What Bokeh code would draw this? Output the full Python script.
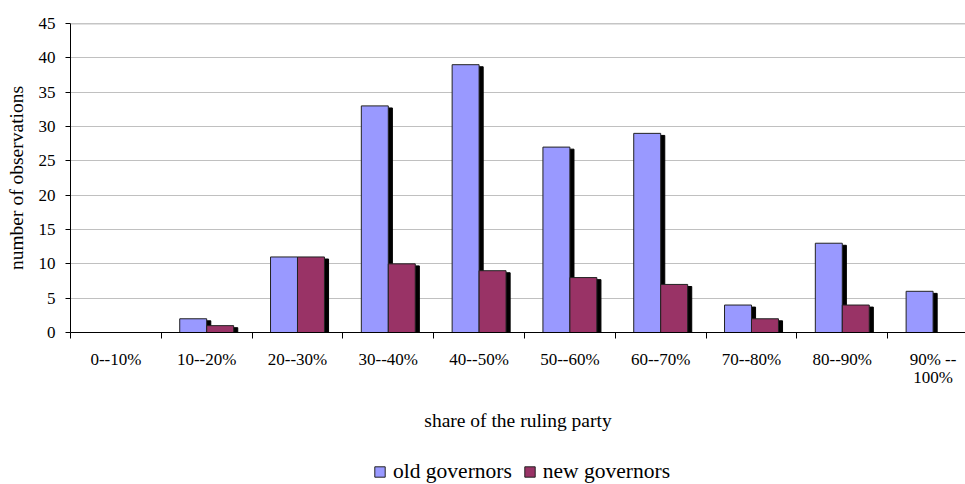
from bokeh.plotting import figure
from bokeh.layouts import column
from bokeh.models import (Range1d, FixedTicker, Span, Legend, LegendItem,
                          ColumnDataSource)
from bokeh.embed import file_html
from bokeh.resources import INLINE

categories = ["0--10%", "10--20%", "20--30%", "30--40%", "40--50%",
              "50--60%", "60--70%", "70--80%", "80--90%", "90% --\n100%"]
old_governors = [0, 2, 11, 33, 39, 27, 29, 4, 13, 6]
new_governors = [0, 1, 11, 10, 9, 8, 7, 2, 4, 0]
y_ticks = [0, 5, 10, 15, 20, 25, 30, 35, 40, 45]

FONT = "Liberation Serif"
BLUE = "#9999FF"
RED = "#993366"

n = len(categories)
centers = [i + 0.5 for i in range(n)]
bw = 0.297
dx_shadow = 0.045
dy_shadow = 0.3

x_old = [c - bw / 2 for c in centers]
x_new = [c + bw / 2 for c in centers]

src = ColumnDataSource(dict(
    x_old=x_old, x_new=x_new,
    old=old_governors, new=new_governors,
    x_old_s=[x + dx_shadow for x in x_old],
    x_new_s=[x + dx_shadow for x in x_new],
    old_s=[v - dy_shadow if v > 0 else 0 for v in old_governors],
    new_s=[v - dy_shadow if v > 0 else 0 for v in new_governors],
))

p = figure(width=965, height=444, output_backend="svg", toolbar_location=None,
           x_range=Range1d(0, 9.857), y_range=Range1d(0, 45),
           min_border_left=70, min_border_top=23,
           min_border_right=0, min_border_bottom=112)
p.outline_line_color = None

# grid
p.xgrid.visible = False
p.ygrid.ticker = FixedTicker(ticks=y_ticks)
p.ygrid.grid_line_color = "#c0c0c0"
p.ygrid.grid_line_width = 1
p.add_layout(Span(location=45, dimension="width", line_color="#8c8c8c", line_width=1.5))

# shadows
p.vbar(x="x_old_s", top="old_s", width=bw, bottom=0, source=src,
       fill_color="black", line_color="black")
p.vbar(x="x_new_s", top="new_s", width=bw, bottom=0, source=src,
       fill_color="black", line_color="black")
# bars
r_old = p.vbar(x="x_old", top="old", width=bw, bottom=0, source=src,
               fill_color=BLUE, line_color="#222222", line_width=1)
r_new = p.vbar(x="x_new", top="new", width=bw, bottom=0, source=src,
               fill_color=RED, line_color="#222222", line_width=1)

# y axis
ya = p.yaxis[0]
ya.ticker = FixedTicker(ticks=y_ticks)
ya.axis_line_color = "black"
ya.major_tick_line_color = "black"
ya.major_tick_out = 5
ya.major_tick_in = 0
ya.minor_tick_line_color = None
ya.major_label_text_font = FONT
ya.major_label_text_font_size = "17px"
ya.major_label_text_color = "black"
ya.major_label_standoff = 10
ya.axis_label = "number of observations"
ya.axis_label_text_font = FONT
ya.axis_label_text_font_size = "19.5px"
ya.axis_label_text_font_style = "normal"
ya.axis_label_text_color = "black"
ya.axis_label_standoff = 9

# x axis: labels at category centres, tick marks at boundaries (minor ticks)
xa = p.xaxis[0]
xa.ticker = FixedTicker(ticks=centers, minor_ticks=list(range(n + 1)))
xa.major_label_overrides = {c: lab for c, lab in zip(centers, categories)}
xa.axis_line_color = "black"
xa.major_tick_line_color = None
xa.major_tick_out = 0
xa.major_tick_in = 0
xa.minor_tick_line_color = "black"
xa.minor_tick_out = 6
xa.minor_tick_in = 0
xa.major_label_text_font = FONT
xa.major_label_text_font_size = "17px"
xa.major_label_text_color = "black"
xa.major_label_text_line_height = 0.95
xa.major_label_standoff = 11
xa.axis_label = "share of the ruling party"
xa.axis_label_text_font = FONT
xa.axis_label_text_font_size = "19.5px"
xa.axis_label_text_font_style = "normal"
xa.axis_label_text_color = "black"
xa.axis_label_standoff = 20

# legend in a strip below
lg = figure(width=965, height=40, output_backend="svg", toolbar_location=None,
            x_range=Range1d(0, 1), y_range=Range1d(0, 1),
            x_axis_location=None, y_axis_location=None, min_border=0)
lg.grid.visible = False
lg.outline_line_color = None
d_old = lg.vbar(x=[-5], top=[-5], bottom=[-6], width=0.1,
                fill_color=BLUE, line_color="#222222")
d_new = lg.vbar(x=[-5], top=[-5], bottom=[-6], width=0.1,
                fill_color=RED, line_color="#222222")
legend = Legend(items=[LegendItem(label="old governors", renderers=[d_old]),
                       LegendItem(label="new governors", renderers=[d_new])],
                orientation="horizontal", location=(303, 0),
                label_text_font=FONT, label_text_font_size="21.5px",
                label_text_color="black",
                glyph_width=13, glyph_height=13, spacing=11,
                label_standoff=7, border_line_color=None,
                background_fill_alpha=0, padding=0, margin=0)
lg.add_layout(legend, "center")

layout = column(p, lg, spacing=0)
open("out.html", "w").write(file_html(layout, INLINE))
